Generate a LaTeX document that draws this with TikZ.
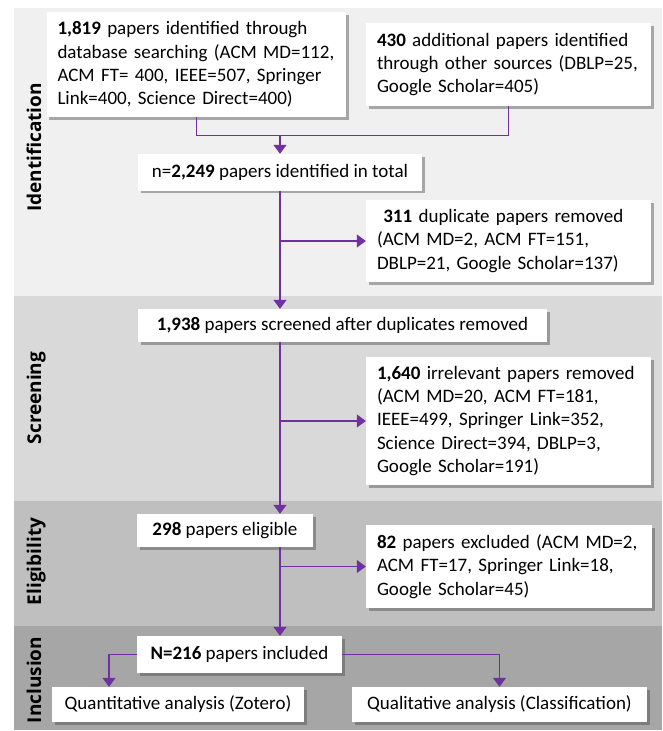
\documentclass[tikz,border=0pt]{standalone}
\usepackage{fontspec}
\setmainfont{Carlito}
\newfontfamily\labfont{Open Sans}
\usetikzlibrary{arrows.meta,shadows}
\definecolor{arr}{HTML}{7030A0}
\definecolor{bandA}{HTML}{F0F0F0}
\definecolor{bandB}{HTML}{D9D9D9}
\definecolor{bandC}{HTML}{BFBFBF}
\definecolor{bandD}{HTML}{A6A6A6}
\tikzset{
  box/.style={fill=white, inner ysep=0pt, inner xsep=11pt,
    drop shadow={shadow xshift=2.5pt, shadow yshift=-2.5pt, opacity=0.45, fill=black!70},
    font=\fontsize{19}{23.2}\selectfont},
  lbox/.style={box, align=left},
  cbox/.style={box, align=center, inner xsep=0pt},
  ln/.style={draw=arr, line width=1.3pt},
  ar/.style={ln, -{Triangle[width=13pt,length=9pt]}},
  lab/.style={rotate=90, anchor=base, font=\labfont\bfseries\fontsize{19}{23}\selectfont},
}
\begin{document}
\begin{tikzpicture}[x=1pt,y=-1pt]
\useasboundingbox (0,0) rectangle (662,731);
% bands
\fill[bandA] (14,8) rectangle (662,296);
\fill[bandB] (14,296) rectangle (662,501);
\fill[bandC] (14,501) rectangle (662,626);
\fill[bandD] (14,626) rectangle (662,730);
\node[lab] (l1) at (41,147.5) {Identification};
\node[lab] (l2) at (41,398) {Screening};
\node[lab] (l3) at (41,561.5) {Eligibility};
\node[lab] (l4) at (41,680) {Inclusion};
% boxes
\node[lbox, text width=277.5pt, minimum height=105pt] (A) at (196.25,64.5)
  {\textbf{1,819} papers identified through\\database searching (ACM MD=112,\\ACM FT= 400, IEEE=507, Springer\\Link=400, Science Direct=400)};
\node[lbox, text width=263pt, minimum height=83pt] (B) at (508.5,64.5)
  {\textbf{430} additional papers identified\\through other sources (DBLP=25,\\Google Scholar=405)};
\node[cbox, minimum width=284pt, minimum height=36.5pt] (C) at (280,172.25)
  {n=\textbf{2,249} papers identified in total};
\node[lbox, text width=263pt, minimum height=82pt] (E) at (508.5,241)
  {\ \textbf{311} duplicate papers removed\\(ACM MD=2, ACM FT=151,\\DBLP=21, Google Scholar=137)};
\node[cbox, minimum width=409pt, minimum height=33pt] (D) at (342.5,325.5)
  {\textbf{1,938} papers screened after duplicates removed};
\node[lbox, text width=263pt, minimum height=128pt] (F) at (508.5,421)
  {\textbf{1,640} irrelevant papers removed\\(ACM MD=20, ACM FT=181,\\IEEE=499, Springer Link=352,\\Science Direct=394, DBLP=3,\\Google Scholar=191)};
\node[cbox, minimum width=176pt, minimum height=33pt] (G) at (225,530.5)
  {\textbf{298} papers eligible};
\node[lbox, text width=264pt, minimum height=83pt] (H) at (509,566.5)
  {\textbf{82} papers excluded (ACM MD=2,\\ACM FT=17, Springer Link=18,\\Google Scholar=45)};
\node[cbox, minimum width=205pt, minimum height=37pt] (I) at (239.5,654.5)
  {\textbf{N=216} papers included};
\node[cbox, minimum width=252pt, minimum height=35pt] (J) at (178,704.5)
  {Quantitative analysis (Zotero)};
\node[cbox, minimum width=295pt, minimum height=35pt] (K) at (499.5,704.5)
  {Qualitative analysis (Classification)};
% connectors
\path (A.south) ++(0,18) coordinate (ja);
\draw[ln] (A.south) -- (ja) -| (B.south);
\draw[ar] (ja -| C.north) -- (C.north);
\draw[ar] (C.south) -- (C.south |- D.north);
\draw[ar] (C.south |- E.west) -- (E.west);
\draw[ar] (C.south |- D.south) -- (C.south |- G.north);
\draw[ar] (C.south |- F.west) -- (F.west);
\draw[ar] (C.south |- G.south) -- (C.south |- I.north);
\draw[ar] (C.south |- H.west) -- (H.west);
\coordinate (jl) at ([xshift=-69pt]J.north);
\draw[ar] (I.west) -| (jl);
\draw[ar] (I.east) -| (K.north);
\end{tikzpicture}
\end{document}
